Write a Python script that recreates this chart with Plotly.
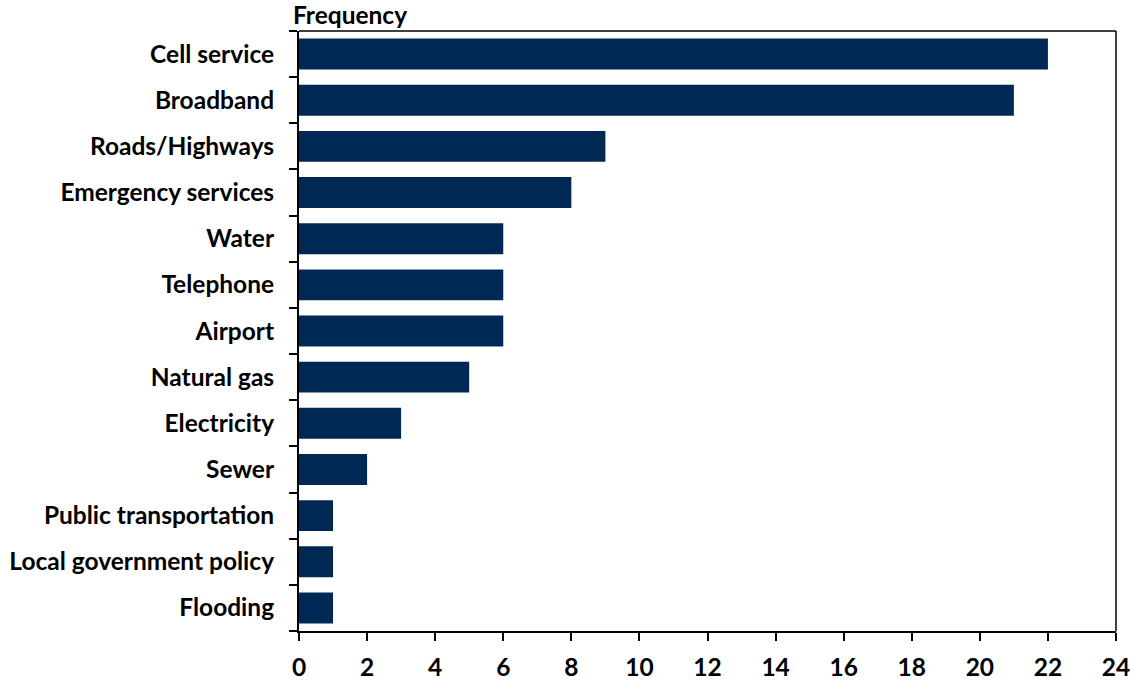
import plotly.graph_objects as go

categories = [
    "Cell service", "Broadband", "Roads/Highways", "Emergency services",
    "Water", "Telephone", "Airport", "Natural gas", "Electricity",
    "Sewer", "Public transportation", "Local government policy", "Flooding",
]
frequency = [22, 21, 9, 8, 6, 6, 6, 5, 3, 2, 1, 1, 1]
x_ticks = list(range(0, 25, 2))

FONT = "Lato"
SIZE = 24.5
NAVY = "#002855"

fig = go.Figure(
    go.Bar(
        x=frequency,
        y=categories,
        orientation="h",
        marker=dict(color=NAVY, line=dict(width=0)),
        hoverinfo="x+y",
    )
)

fig.update_layout(
    width=1130,
    height=680,
    margin=dict(l=299, r=14, t=31, b=49, autoexpand=False),
    paper_bgcolor="white",
    plot_bgcolor="white",
    bargap=0.33,
    showlegend=False,
    font=dict(family=FONT, size=SIZE, color="black"),
)

fig.update_xaxes(
    range=[0, 24],
    tickvals=x_ticks,
    ticktext=[str(v) for v in x_ticks],
    tickfont=dict(family=FONT, size=SIZE, color="black", weight="bold"),
    automargin=False,
    ticklabeloverflow="allow",
    showgrid=False,
    zeroline=False,
    showline=True,
    linecolor="black",
    linewidth=2,
    ticks="outside",
    ticklen=8,
    tickwidth=2,
    tickcolor="black",
    ticklabelstandoff=6,
)

fig.update_yaxes(
    categoryorder="array",
    categoryarray=categories[::-1],
    tickfont=dict(family=FONT, size=SIZE, color="black", weight="bold"),
    automargin=False,
    showgrid=False,
    zeroline=False,
    showline=True,
    linecolor="black",
    linewidth=2,
    ticks="outside",
    tickson="boundaries",
    ticklen=8,
    tickwidth=1.5,
    tickcolor="black",
    ticklabelstandoff=18,
)

# Thin top and right frame edges
fig.add_shape(type="line", xref="x domain", yref="y domain",
              x0=0, x1=1, y0=1, y1=1, line=dict(color="black", width=1.5))
fig.add_shape(type="line", xref="x domain", yref="y domain",
              x0=1, x1=1, y0=0, y1=1, line=dict(color="black", width=1.5))

fig.add_annotation(
    text="Frequency",
    xref="paper", yref="paper",
    x=-0.0095, y=1.0,
    xanchor="left", yanchor="bottom",
    yshift=0,
    showarrow=False,
    font=dict(family=FONT, size=SIZE, color="black", weight="bold"),
)

fig.write_html("out.html")
